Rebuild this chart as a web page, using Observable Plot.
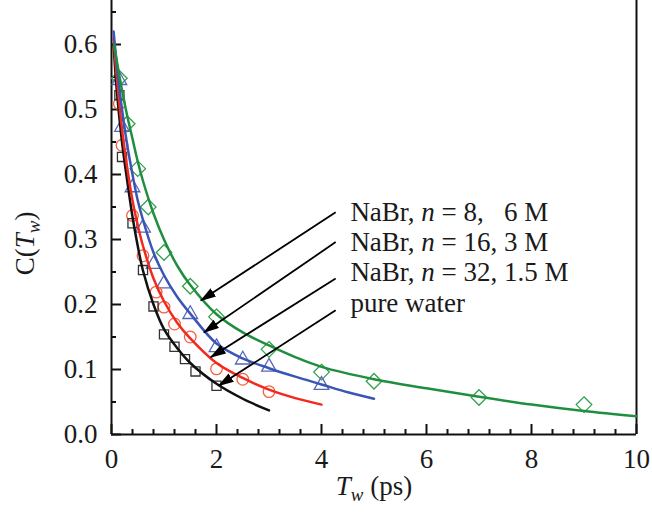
<!DOCTYPE html>
<html><head><meta charset="utf-8">
<script src="https://cdn.jsdelivr.net/npm/d3@7"></script>
<script src="https://cdn.jsdelivr.net/npm/@observablehq/plot@0.6"></script>
<style>body{margin:0;background:#fff}</style>
</head><body><div id="chart"></div>
<script>
// ---- measured points (open markers) ----
const waterT = [0.15, 0.2, 0.4, 0.6, 0.8, 1.0, 1.2, 1.4, 1.6, 2.0];
const waterC = [0.522, 0.427, 0.325, 0.253, 0.197, 0.154, 0.135, 0.116, 0.097, 0.075];
const n32T = [0.15, 0.2, 0.4, 0.6, 0.85, 1.0, 1.2, 1.5, 2.0, 2.5, 3.0];
const n32C = [0.509, 0.445, 0.337, 0.275, 0.219, 0.196, 0.170, 0.150, 0.101, 0.085, 0.066];
const n16T = [0.15, 0.2, 0.4, 0.6, 0.8, 1.0, 1.5, 2.0, 2.5, 3.0, 4.0];
const n16C = [0.545, 0.473, 0.38, 0.318, 0.262, 0.232, 0.185, 0.134, 0.115, 0.104, 0.076];
const n8T = [0.15, 0.3, 0.5, 0.7, 1.0, 1.5, 2.0, 3.0, 4.0, 5.0, 7.0, 9.0];
const n8C = [0.548, 0.478, 0.409, 0.350, 0.280, 0.228, 0.181, 0.131, 0.096, 0.082, 0.057, 0.046];

// ---- fitted curves ----
const waterFitT = [0.04, 0.1, 0.2, 0.3, 0.4, 0.5, 0.6, 0.8, 1.0, 1.25, 1.5, 2.0, 2.5, 3.0];
const waterFitC = [0.60, 0.53, 0.45, 0.39, 0.335, 0.29, 0.252, 0.200, 0.162, 0.133, 0.110, 0.078, 0.055, 0.037];
const n32FitT = [0.04, 0.1, 0.2, 0.3, 0.4, 0.5, 0.6, 0.8, 1.0, 1.25, 1.5, 2.0, 2.5, 3.0, 3.5, 4.0];
const n32FitC = [0.61, 0.55, 0.47, 0.41, 0.36, 0.322, 0.29, 0.24, 0.205, 0.172, 0.148, 0.110, 0.087, 0.069, 0.056, 0.046];
const n16FitT = [0.04, 0.1, 0.2, 0.3, 0.4, 0.5, 0.6, 0.8, 1.0, 1.25, 1.5, 2.0, 2.5, 3.0, 3.5, 4.0, 4.5, 5.0];
const n16FitC = [0.62, 0.57, 0.50, 0.445, 0.40, 0.36, 0.33, 0.28, 0.245, 0.212, 0.186, 0.140, 0.117, 0.102, 0.089, 0.077, 0.065, 0.055];
const n8FitT = [0.05, 0.1, 0.2, 0.3, 0.4, 0.5, 0.6, 0.8, 1.0, 1.25, 1.5, 2.0, 2.5, 3.0, 3.5, 4.0, 5.0, 6.0, 7.0, 8.0, 9.0, 10.0];
const n8FitC = [0.60, 0.575, 0.53, 0.49, 0.455, 0.42, 0.39, 0.34, 0.30, 0.26, 0.23, 0.185, 0.157, 0.137, 0.119, 0.104, 0.085, 0.071, 0.058, 0.046, 0.036, 0.028];

// ---- annotations ----
const labelText = ["NaBr, n = 8,   6 M", "NaBr, n = 16, 3 M", "NaBr, n = 32, 1.5 M", "pure water"];
const labelT = [4.55, 4.55, 4.55, 4.55];
const labelC = [0.3415, 0.295, 0.249, 0.2015];
const arrowTailT = [4.27, 4.27, 4.27, 4.27];
const arrowTailC = [0.342, 0.296, 0.240, 0.191];
const arrowTipT = [1.70, 1.76, 1.89, 2.04];
const arrowTipC = [0.206, 0.157, 0.119, 0.075];

// ---- ticks ----
const xMajorTicks = [0, 2, 4, 6, 8, 10];
const xMinorTicks = [0.4, 0.8, 1.2, 1.6, 2.4, 2.8, 3.2, 3.6, 4.4, 4.8, 5.2, 5.6, 6.4, 6.8, 7.2, 7.6, 8.4, 8.8, 9.2, 9.6];
const yMajorTicks = [0, 0.1, 0.2, 0.3, 0.4, 0.5, 0.6];
const yMinorTicks = [0.05, 0.15, 0.25, 0.35, 0.45, 0.55, 0.65];

const zip = (T, C) => T.map((t, i) => ({t, c: C[i]}));
const colors = {green: "#1f8f3f", blue: "#3a55b4", red: "#f2291f", black: "#111"};
const mk = {green: "#34a04e", blue: "#5566bb", red: "#f4603f", black: "#333"};

const W = 652, H = 514, mL = 111, mR = 16, mT = 0, mB = 80;
const pxPerY = 650, pxPerX = (W - mL - mR) / 10;
const yTop = (H - mT - mB) / pxPerY;
const majLenY = 10 / pxPerY, minLenY = 5 / pxPerY, majLenX = 10 / pxPerX, minLenX = 5 / pxPerX;

const labels = labelText.map((s, i) => ({s, t: labelT[i], c: labelC[i]}));
const arrows = arrowTailT.map((t, i) => ({t1: t, c1: arrowTailC[i], t2: arrowTipT[i], c2: arrowTipC[i]}));
const FS = 27;

const svg = Plot.plot({
  width: W, height: H, marginLeft: mL, marginRight: mR, marginTop: mT, marginBottom: mB,
  x: {domain: [0, 10]},
  y: {domain: [0, yTop]},
  style: {fontFamily: "'Liberation Serif', 'Times New Roman', serif", fontSize: FS + "px", color: "#1a1a1a", background: "white"},
  marks: [
    Plot.axisX({ticks: xMajorTicks, tickSize: 0, tickPadding: 14, tickFormat: d => String(d), label: null, fontSize: FS}),
    Plot.axisY({ticks: yMajorTicks, tickSize: 0, tickPadding: 14, tickFormat: d3.format(".1f"), label: null, fontSize: FS}),
    Plot.ruleX(xMajorTicks, {x: d => d, y1: 0, y2: majLenY, stroke: "#111", strokeWidth: 2}),
    Plot.ruleX(xMinorTicks, {x: d => d, y1: 0, y2: minLenY, stroke: "#111", strokeWidth: 2}),
    Plot.ruleY(yMajorTicks, {y: d => d, x1: 0, x2: majLenX, stroke: "#111", strokeWidth: 2}),
    Plot.ruleY(yMinorTicks, {y: d => d, x1: 0, x2: minLenX, stroke: "#111", strokeWidth: 2}),
    Plot.ruleX([0, 10], {stroke: "#111", strokeWidth: 2}),
    Plot.ruleY([0], {stroke: "#111", strokeWidth: 2.2}),
    Plot.dot(zip(n8T, n8C), {x: "t", y: "c", symbol: "diamond2", r: 7, stroke: mk.green, strokeWidth: 1.3, fill: "none"}),
    Plot.dot(zip(n16T, n16C), {x: "t", y: "c", symbol: "triangle2", r: 7, stroke: mk.blue, strokeWidth: 1.3, fill: "none"}),
    Plot.dot(zip(n32T, n32C), {x: "t", y: "c", symbol: "circle", r: 5.8, stroke: mk.red, strokeWidth: 1.3, fill: "none"}),
    Plot.dot(zip(waterT, waterC), {x: "t", y: "c", symbol: "square2", r: 5.8, stroke: mk.black, strokeWidth: 1.3, fill: "none"}),
    Plot.line(zip(waterFitT, waterFitC), {x: "t", y: "c", stroke: colors.black, strokeWidth: 2.5, curve: "catmull-rom"}),
    Plot.line(zip(n32FitT, n32FitC), {x: "t", y: "c", stroke: colors.red, strokeWidth: 2.5, curve: "catmull-rom"}),
    Plot.line(zip(n16FitT, n16FitC), {x: "t", y: "c", stroke: colors.blue, strokeWidth: 2.5, curve: "catmull-rom"}),
    Plot.line(zip(n8FitT, n8FitC), {x: "t", y: "c", stroke: colors.green, strokeWidth: 2.5, curve: "catmull-rom"}),
    Plot.link(arrows, {x1: "t1", y1: "c1", x2: "t2", y2: "c2", stroke: "#000", strokeWidth: 1.8, className: "arrowlink"}),
    Plot.text(labels, {x: "t", y: "c", text: "s", textAnchor: "start", lineAnchor: "middle", fill: "#1a1a1a", fontSize: FS}),
    Plot.text(["C(Tw)"], {frameAnchor: "left", y: () => 0.245, rotate: -90, dx: -86, textAnchor: "start", lineAnchor: "middle", fill: "#1a1a1a", fontSize: FS}),
    Plot.text(["Tw (ps)"], {frameAnchor: "bottom", dy: 60, fill: "#1a1a1a", fontSize: FS})
  ]
});

// arrowheads (filled)
const ns = "http://www.w3.org/2000/svg";
const defs = document.createElementNS(ns, "defs");
const marker = document.createElementNS(ns, "marker");
marker.setAttribute("id", "ahead");
marker.setAttribute("viewBox", "0 0 16 10");
marker.setAttribute("markerWidth", "16");
marker.setAttribute("markerHeight", "10");
marker.setAttribute("refX", "15");
marker.setAttribute("refY", "5");
marker.setAttribute("markerUnits", "userSpaceOnUse");
marker.setAttribute("orient", "auto");
const mp = document.createElementNS(ns, "path");
mp.setAttribute("d", "M0,0L16,5L0,10Z");
mp.setAttribute("fill", "#000");
marker.appendChild(mp);
defs.appendChild(marker);
svg.insertBefore(defs, svg.firstChild);
svg.querySelectorAll('.arrowlink path').forEach(p => p.setAttribute("marker-end", "url(#ahead)"));

// rich text
const sub = FS * 0.7, sh = Math.round(FS * 0.22);
svg.querySelectorAll('g[aria-label="text"] text').forEach(t => {
  const s = t.textContent;
  t.style.whiteSpace = "pre";
  if (s.startsWith("NaBr")) {
    t.innerHTML = s.replace(" n ", ' <tspan font-style="italic">n</tspan> ');
  } else if (s === "C(Tw)") {
    t.innerHTML = `C(<tspan font-style="italic">T</tspan><tspan font-style="italic" font-size="${sub}" dy="${sh}">w</tspan><tspan dy="${-sh}">)</tspan>`;
  } else if (s === "Tw (ps)") {
    t.innerHTML = `<tspan font-style="italic">T</tspan><tspan font-style="italic" font-size="${sub}" dy="${sh}">w</tspan><tspan dy="${-sh}"> (ps)</tspan>`;
  }
});

document.getElementById("chart").appendChild(svg);
</script>
</body></html>
